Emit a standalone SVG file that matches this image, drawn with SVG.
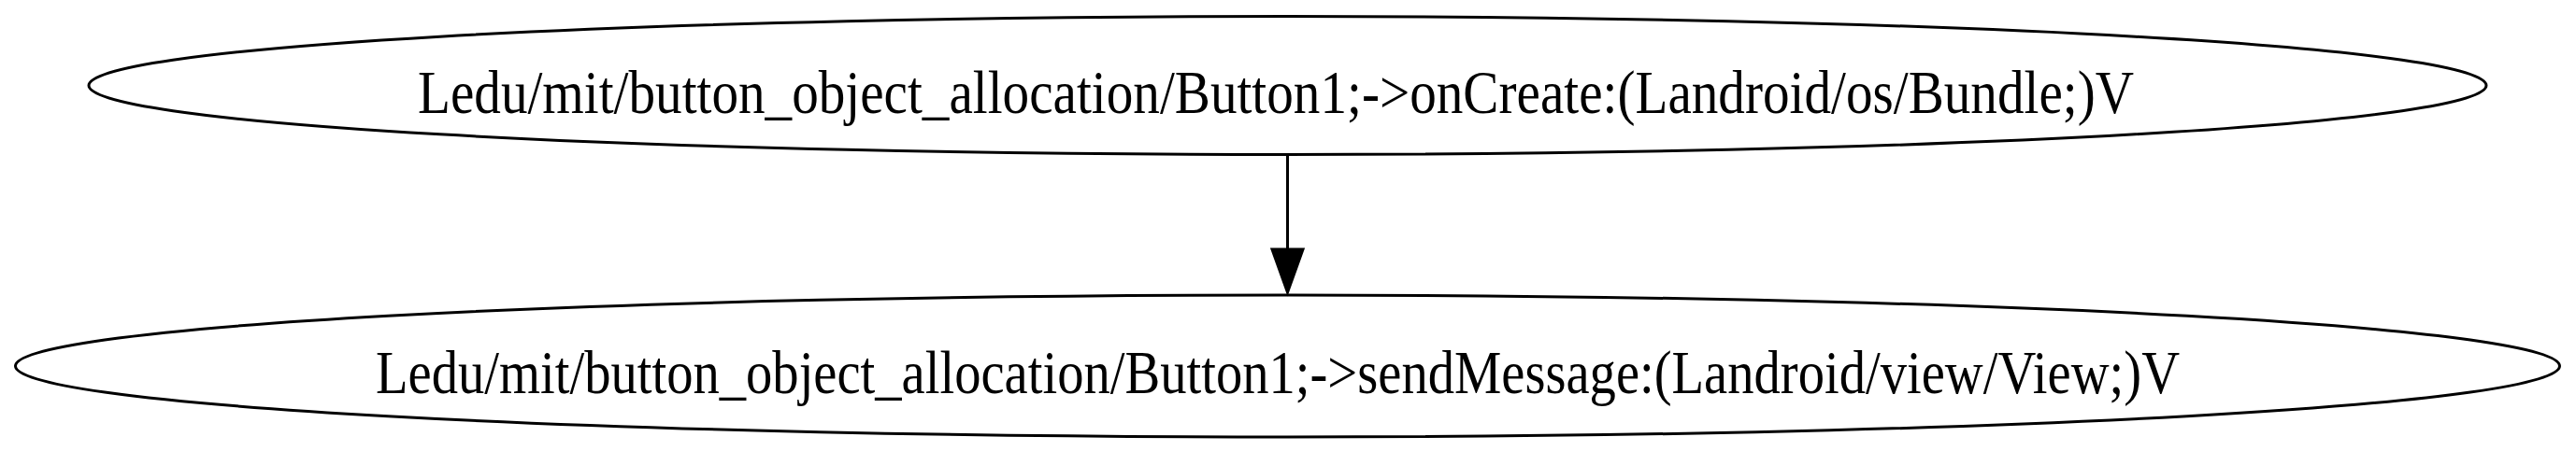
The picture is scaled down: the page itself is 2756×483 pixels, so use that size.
<svg xmlns="http://www.w3.org/2000/svg" width="2756" height="483" viewBox="0 0 2756 483">
<style>
.node ellipse{fill:none;stroke:#000;stroke-width:3}
.node text{font-family:"Liberation Serif","Times New Roman",serif;font-size:66px;fill:#000}
.edge line{stroke:#000;stroke-width:3}
.edge polygon{fill:#000;stroke:#000;stroke-width:3}
</style>
<rect width="2756" height="483" fill="#fff"/>
<g id="node1" class="node">
<ellipse cx="1377.5" cy="91.5" rx="1282.5" ry="74"/>
<text x="447" y="121" textLength="1836" lengthAdjust="spacingAndGlyphs">Ledu/mit/button_object_allocation/Button1;-&gt;onCreate:(Landroid/os/Bundle;)V</text>
</g>
<g id="node2" class="node">
<ellipse cx="1377.5" cy="392" rx="1361" ry="76"/>
<text x="402" y="421" textLength="1930" lengthAdjust="spacingAndGlyphs">Ledu/mit/button_object_allocation/Button1;-&gt;sendMessage:(Landroid/view/View;)V</text>
</g>
<g id="edges" class="edge">
<line x1="1377.5" y1="166" x2="1377.5" y2="267"/>
<polygon points="1361,267 1394,267 1377.5,313"/>
</g>
</svg>
